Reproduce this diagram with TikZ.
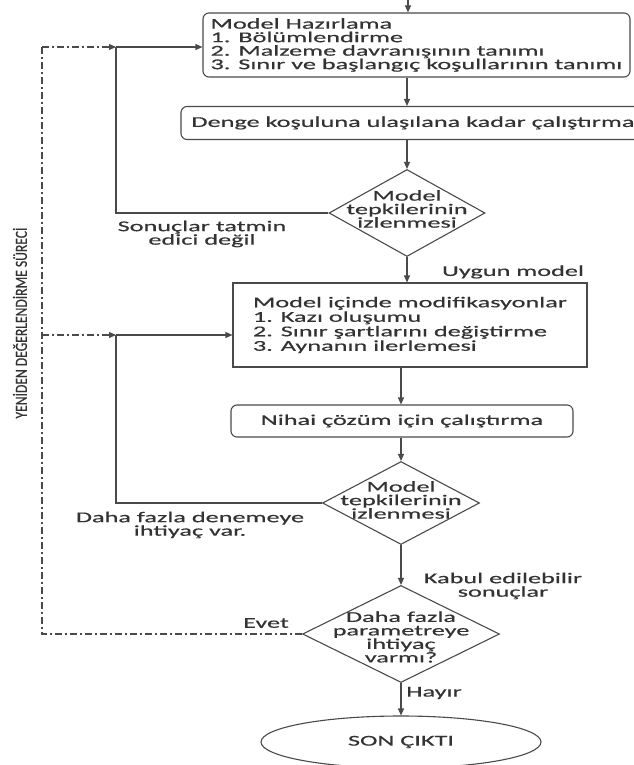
\documentclass[tikz,border=0pt]{standalone}
\usepackage{fontspec}
\setmainfont{Carlito}[FakeStretch=1.75, FakeBold=0.5]
\newfontfamily\sidefont{Carlito}[FakeStretch=0.8, FakeBold=0.6]
\usetikzlibrary{arrows.meta,shapes.geometric}
\definecolor{linec}{HTML}{4A4A4A}
\definecolor{textc}{HTML}{333333}

\begin{document}
\begin{tikzpicture}[x=1pt, y=-1pt, every node/.style={font=\fontsize{15}{13.5}\selectfont, text=textc}, >={Triangle[length=7pt,width=6pt]}, ln/.style={draw=linec, line width=1.1pt}, arr/.style={ln, ->}, ddot/.style={dash pattern=on 7pt off 3pt on 2pt off 3pt}, rbox/.style={ln, rounded corners=6pt, inner sep=4pt}, sbox/.style={ln, inner sep=4pt}, dia/.style={ln, diamond, inner sep=0pt}, lbl/.style={align=center}]
	\useasboundingbox (0,0) rectangle (633,765);
	\coordinate (in) at (408,0);
	\node[rbox, align=left, minimum width=427pt, minimum height=64pt] (prep) at (416.5,45) {Model Hazırlama\\1. Bölümlendirme\\2. Malzeme davranışının tanımı\\3. Sınır ve başlangıç koşullarının tanımı};
	\node[rbox, minimum width=464pt, minimum height=33pt] (run1) at (413,123) {Denge koşuluna ulaşılana kadar çalıştırma};
	\node[dia, minimum width=156pt, minimum height=87pt] (chk1) at (407,213) {};
	\node[lbl] (chk1t) at (407,209) {Model\\tepkilerinin\\izlenmesi};
	\node[sbox, align=left, minimum width=354pt, minimum height=84pt, font=\fontsize{15}{14.5}\selectfont] (mod) at (410,325) {Model içinde modifikasyonlar\\1. Kazı oluşumu\\2. Sınır şartlarını değiştirme\\3. Aynanın ilerlemesi};
	\node[rbox, minimum width=342pt, minimum height=32pt] (run2) at (402,421) {Nihai çözüm için çalıştırma};
	\node[dia, minimum width=157pt, minimum height=83pt] (chk2) at (401,503) {};
	\node[lbl] (chk2t) at (401,500) {Model\\tepkilerinin\\izlenmesi};
	\node[dia, minimum width=197pt, minimum height=97pt] (ask) at (401,634) {};
	\node[lbl] (askt) at (401,637) {Daha fazla\\parametreye\\ihtiyaç\\varmı?};
	\node[ln, ellipse, minimum width=280pt, minimum height=52pt] (out) at (401,742) {SON ÇIKTI};
	% etiketler
	\node[lbl] (no1) at (202,234) {Sonuçlar tatmin\\edici değil};
	\node[lbl] (ok1) at (513,272) {Uygun model};
	\node[lbl] (no2) at (190,525) {Daha fazla denemeye\\ihtiyaç var.};
	\node[lbl] (ok2) at (503,586) {Kabul edilebilir\\sonuçlar};
	\node[lbl] (yes) at (266,623) {Evet};
	\node[lbl] (nope) at (434,693) {Hayır};
	\node[rotate=90, font=\sidefont\fontsize{17}{17}\selectfont] (side) at (20,323) {YENİDEN DEĞERLENDİRME SÜRECİ};
	% ana akış
	\draw[arr] (in) -- (prep.north -| in);
	\draw[arr] (prep.south -| chk1) -- (run1.north -| chk1);
	\draw[arr] (run1.south -| chk1) -- (chk1.north);
	\draw[arr] (chk1.south) -- (mod.north -| chk1);
	\draw[arr] (mod.south -| chk2) -- (run2.north -| chk2);
	\draw[arr] (run2.south -| chk2) -- (chk2.north);
	\draw[arr] (chk2.south) -- (ask.north);
	\draw[arr] (ask.south) -- (out.north);
	% geri dönüşler
	\coordinate (j1) at (116,47);
	\coordinate (j2) at (116,335);
	\coordinate (r1) at (42,47);
	\coordinate (r2) at (42,335);
	\draw[ln] (chk1.west) -| (j1);
	\draw[arr] (j1) -- (j1 -| prep.west);
	\draw[ln] (chk2.west) -| (j2);
	\draw[arr] (j2) -- (j2 -| mod.west);
	\draw[ln, ddot] (ask.west) -| (r1);
	\draw[arr, ddot] (r1) -- (j1);
	\draw[arr, ddot] (r2) -- (j2);
\end{tikzpicture}
\end{document}
